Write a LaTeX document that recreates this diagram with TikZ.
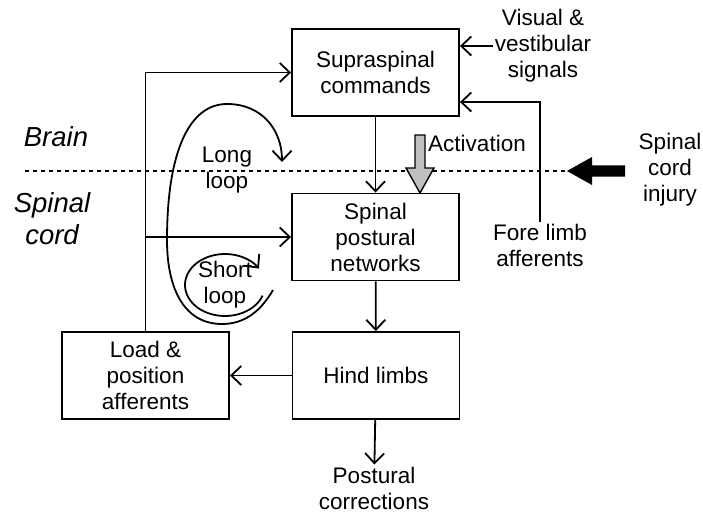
\documentclass[tikz,border=0pt]{standalone}
\usepackage{fontspec}
\setmainfont{Liberation Sans}
\usetikzlibrary{arrows.meta,calc}
\begin{document}
\begin{tikzpicture}[x=1pt,y=1pt,
  txt/.style={font=\fontsize{22.5}{26}\selectfont, align=center, inner sep=2pt},
  bigtxt/.style={font=\fontsize{27.5}{32}\selectfont\itshape, align=center, inner sep=0pt},
  box/.style={draw, line width=1.9pt, minimum width=167pt, minimum height=87pt, inner sep=0pt, txt},
  arr/.style={line width=1.8pt, -{Straight Barb[length=10pt,width=19pt,line width=1.8pt]}},
  dots/.style={line width=1.4pt, dash pattern=on 4pt off 4pt}
]
\path[use as bounding box] (0,0) rectangle (703,-513);

% dotted boundary
\coordinate (dl) at (25,-171);
\coordinate (dr) at (567,-171);
\draw[dots] (dl) -- (dr);

% boxes
\node[box] (sup)  at (375.5,-72.5) {Supraspinal\\commands};
\node[box] (spn)  at (375.5,-237)  {Spinal\\postural\\networks};
\node[box] (hind) at (376,-375.5)  {Hind limbs};
\node[box] (load) at (145.5,-375.5) {Load \&\\position\\afferents};

% free texts
\node[txt] (vis) at (543,-46) {Visual \&\\vestibular\\signals};
\node[txt] (fl)  at (540,-245) {Fore limb\\afferents};
\node[txt] (pc)  at (374,-488) {Postural\\corrections};
\node[txt] (act) at (477,-143) {Activation};
\node[txt] (sci) at (670,-170) {Spinal\\cord\\injury};
\node[txt] (ll)  at (227,-170) {Long\\loop};
\node[txt] (sl)  at (225,-285) {Short\\loop};
\node[bigtxt] (brain) at (56,-137) {Brain};
\node[bigtxt] (sc) at (52,-219) {Spinal\\cord};

% main connectors
\draw[arr] (sup) -- (spn);
\draw[arr] (spn) -- (hind);
\draw[arr] (hind) -- (pc);
\draw[arr] (hind) -- (load);
\draw[arr] (load.north) |- (sup.west);
\draw[arr] (load.north |- spn.west) -- (spn.west);
\draw[arr] (vis.west) -- (vis.west -| sup.east);
\coordinate (flc) at (540,-102);
\draw[arr] (fl.north) |- (flc -| sup.east);

% injury arrow
\fill (dr) -- (592,-157) -- (592,-165.5) -- (625,-165.5) -- (625,-176.5)
  -- (592,-176.5) -- (592,-185) -- cycle;

% activation arrow
\draw[line width=1.4pt, fill=black!25] (415,-135) -- (425,-135) -- (425,-168) -- (434,-168)
  -- (420,-193) -- (406,-168) -- (415,-168) -- cycle;

% long loop
\draw[arr] (273,-290) .. controls (258,-316) and (240,-324) .. (222,-324)
  .. controls (185,-324) and (167,-290) .. (167,-240)
  .. controls (167,-150) and (190,-104) .. (227,-104)
  .. controls (262,-104) and (282,-130) .. (282,-162);

% short loop
\draw[arr] (225,-285) ++(-20:40pt and 31pt)
  arc[start angle=-20, end angle=-328, x radius=40pt, y radius=31pt];
\end{tikzpicture}
\end{document}
